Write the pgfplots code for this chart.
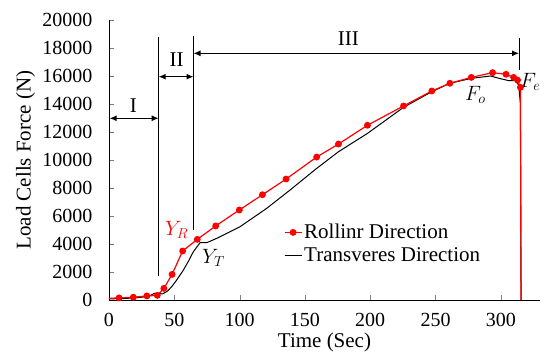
\documentclass[border=0pt]{standalone}
\usepackage{pgfplots}
\pgfplotsset{compat=1.18}
\usepackage{fontspec}
\setmainfont{Liberation Serif}
\usetikzlibrary{arrows.meta}
\begin{document}
\begin{tikzpicture}
\begin{axis}[
  scale only axis, width=431pt, height=280pt,
  xmin=0, xmax=330, ymin=0, ymax=20000,
  axis x line*=bottom, axis y line*=left,
  tick align=inside, major tick length=5pt,
  xtick={0,50,...,300}, ytick={0,2000,...,20000},
  /pgf/number format/1000 sep={},
  /pgf/number format/assume math mode=true,
  scaled y ticks=false,
  font=\fontsize{21}{24}\selectfont,
  tick label style={font=\fontsize{20}{22}\selectfont},
  yticklabel style={xshift=-13pt},
  xticklabel style={yshift=-9pt},
  xlabel={Time (Sec)}, ylabel={Load Cells Force (N)},
  label style={font=\fontsize{21}{24}\selectfont},
  ylabel shift=0pt,
  xlabel shift=0pt,
  line width=0.8pt,
  legend style={at={(rel axis cs:0.405,0.275)}, anchor=north west, draw=none, fill=none,
    font=\fontsize{21}{24}\selectfont, row sep=5pt, inner sep=0pt,
    nodes={inner ysep=1pt}},
  legend cell align=left,
]
\addlegendimage{red, line width=1.2pt, mark=*, mark size=2.8pt}
\addlegendentry{Rollinr Direction}
\addlegendimage{black, line width=1pt}
\addlegendentry{Transveres Direction}

\addplot[black, line width=1pt, forget plot] coordinates {
(0,80) (10,100) (20,150) (30,250) (35,480) (38,470) (41,430) (45,650) (48,950)
(52,1450) (57,2140) (61,2800) (64.6,3450) (69.7,4090) (74.8,4090) (82.4,4400)
(100.4,5240) (120.8,6550) (138.7,7860) (159,9400) (175.7,10590) (197.9,11900)
(225.5,13760) (247.2,14880) (261,15480) (277.4,15830) (292,16000) (299.6,15810)
(306,15670) (311,15670) (313.7,15360) (315,14000) (315.5,0)
};
\addplot[red, line width=1.2pt, forget plot] coordinates {(0,120) (7.7,150)};
\addplot[red, line width=1.2pt, forget plot] coordinates {(315,15190) (315.5,0)};
\addplot[red, line width=1.2pt, mark=*, mark size=2.8pt, forget plot] coordinates {
(7.7,150) (18.6,200) (29,290) (37,330) (42,830) (48.3,1830) (56.4,3500)
(67.6,4330) (81.7,5290) (99.8,6430) (117.5,7520) (135.6,8640) (159,10210)
(175.7,11140) (197.9,12480) (225.5,13860) (247.2,14930) (261,15480) (277.4,15900)
(293.7,16240) (304,16120) (309.8,15900) (312.8,15710) (315,15190)
};

% region lines
\draw[black, line width=1.2pt] (axis cs:38,18800) -- (axis cs:38,1700);
\draw[black, line width=1.2pt] (axis cs:64.7,18860) -- (axis cs:64.7,5000);
\draw[black, line width=1.2pt] (axis cs:314,18690) -- (axis cs:314,16430);
\draw[black, line width=1.2pt, {Latex[length=7pt,width=6pt]}-{Latex[length=7pt,width=6pt]}] (axis cs:0.5,12980) -- (axis cs:38,12980);
\draw[black, line width=1.2pt, {Latex[length=7pt,width=6pt]}-{Latex[length=7pt,width=6pt]}] (axis cs:38,15950) -- (axis cs:64.7,15950);
\draw[black, line width=1.2pt, {Latex[length=7pt,width=6pt]}-{Latex[length=7pt,width=6pt]}] (axis cs:64.7,17620) -- (axis cs:314,17620);
\node at (axis cs:18.6,13900) {I};
\node at (axis cs:51.8,17150) {II};
\node at (axis cs:183.3,18650) {III};
\node[red] at (axis cs:51.8,5000) {$Y_R$};
\node at (axis cs:80,2980) {$Y_T$};
\node at (axis cs:280.5,14640) {$F_o$};
\node at (axis cs:322.5,15600) {$F_e$};
\coordinate (O) at (rel axis cs:0,0);
\end{axis}
\path (O) ++(-109pt,-58pt) rectangle ++(547pt,358pt);
\end{tikzpicture}
\end{document}
